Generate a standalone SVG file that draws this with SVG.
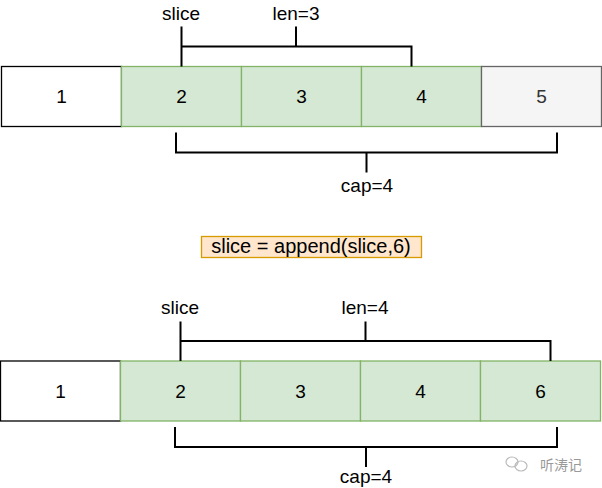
<svg xmlns="http://www.w3.org/2000/svg" width="602" height="488" viewBox="0 0 602 488">
<style>
text{font-family:"Liberation Sans",Arial,sans-serif;font-size:19px;fill:#000;text-anchor:middle}
.w{fill:#fff;stroke:#000;stroke-width:1.3}
.g{fill:#d5e8d4;stroke:#82b366;stroke-width:1.3}
.e{fill:#f5f5f5;stroke:#666;stroke-width:1.3}
.o{fill:#ffe6cc;stroke:#d79b00;stroke-width:1.3}
.c path{fill:none;stroke:#000;stroke-width:2}
</style>
<g id="top-1"><rect class="w" x="1.5" y="66.5" width="120" height="60"/><text x="61.5" y="103">1</text></g>
<g id="top-2"><rect class="g" x="121.5" y="66.5" width="120" height="60"/><text x="181.5" y="103">2</text></g>
<g id="top-3"><rect class="g" x="241.5" y="66.5" width="120" height="60"/><text x="301.5" y="103">3</text></g>
<g id="top-4"><rect class="g" x="361.5" y="66.5" width="120" height="60"/><text x="421.5" y="103">4</text></g>
<g id="top-5"><rect class="e" x="481.5" y="66.5" width="120" height="60"/><text x="541.5" y="103" style="fill:#333">5</text></g>
<g id="top-slice"><text x="181" y="20">slice</text></g>
<g id="top-len"><text x="296" y="20">len=3</text></g>
<g id="top-cap"><text x="367" y="192">cap=4</text></g>
<g id="append"><rect class="o" x="201.5" y="236.5" width="220" height="21"/><text x="311" y="253" style="font-size:20px">slice = append(slice,6)</text></g>
<g id="bot-1"><rect class="w" x="0.5" y="361" width="120" height="60"/><text x="60.5" y="397.5">1</text></g>
<g id="bot-2"><rect class="g" x="120.5" y="361" width="120" height="60"/><text x="180.5" y="397.5">2</text></g>
<g id="bot-3"><rect class="g" x="240.5" y="361" width="120" height="60"/><text x="300.5" y="397.5">3</text></g>
<g id="bot-4"><rect class="g" x="360.5" y="361" width="120" height="60"/><text x="420.5" y="397.5">4</text></g>
<g id="bot-6"><rect class="g" x="480.5" y="361" width="120" height="60"/><text x="540.5" y="397.5">6</text></g>
<g id="bot-slice"><text x="180" y="314">slice</text></g>
<g id="bot-len"><text x="365" y="314">len=4</text></g>
<g id="bot-cap"><text x="366" y="482.5">cap=4</text></g>
<g class="c" id="connectors">
<path d="M181.5 26.5V66.5M181.5 46.5H411.5V66.5M296 26.5V46.5"/>
<path d="M176 132.5V152.5H557V132.5M366.5 152.5V172.5"/>
<path d="M180.5 321.5V361M180.5 341H550.5V361M365.5 321.5V341"/>
<path d="M175 427V447H557V427M366 447V467"/>
</g>
<g id="watermark">
<g fill="none" stroke="#bbb" stroke-width="1.2"><ellipse cx="512" cy="462" rx="6" ry="5"/><ellipse cx="521" cy="466" rx="6" ry="5"/></g>
<text x="561" y="470" style="font-family:'Noto Sans CJK SC',sans-serif;font-size:14px;fill:#999">听涛记</text>
</g>
</svg>
